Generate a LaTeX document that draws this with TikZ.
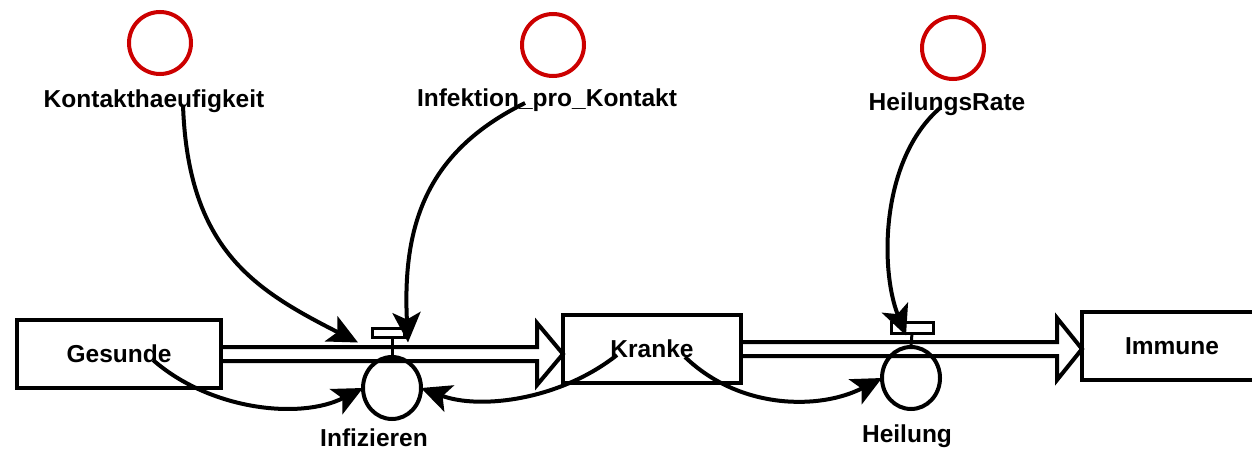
\documentclass[tikz,border=0pt]{standalone}
\usepackage{fontspec}
\setmainfont{Liberation Sans}
\usetikzlibrary{arrows.meta,shapes.geometric,calc}
\definecolor{auxred}{RGB}{204,0,0}
\begin{document}
\begin{tikzpicture}[x=1pt,y=-1pt,
  txt/.style={font=\fontsize{24.5}{28}\selectfont\bfseries, inner sep=0pt},
  stock/.style={txt, draw, line width=4pt, rectangle, minimum width=#1,
    minimum height=68pt, outer sep=0pt},
  pipe/.style={draw, line width=4pt, line join=miter},
  valve/.style={draw, line width=4pt, ellipse, minimum width=58pt,
    minimum height=62pt, inner sep=0pt, outer sep=0pt},
  gate/.style={draw, line width=3pt, rectangle, inner sep=0pt, outer sep=0pt},
  aux/.style={draw=auxred, line width=4pt, circle, minimum size=62pt,
    inner sep=0pt, outer sep=0pt},
  lbl/.style={txt, anchor=base},
  link/.style={line width=4pt, -{Stealth[length=30pt,width=28pt,inset=7pt]}}
]
\useasboundingbox (0,0) rectangle (1252,452);

% stocks
\node[stock=204pt] (gesunde) at (119,354) {Gesunde};
\node[stock=178pt] (kranke) at (652,349) {Kranke};
\node[stock=180pt] (immune) at (1172,346) {Immune};

% flow pipes with open arrow heads
\draw[pipe] ($(gesunde.east)+(0,-7)$)
  -- ($(kranke.west |- gesunde.east)+(-26,-7)$) -- ++(0,-24)
  -- (kranke.west |- gesunde.east)
  -- ($(kranke.west |- gesunde.east)+(-26,31)$) -- ++(0,-24)
  -- ($(gesunde.east)+(0,7)$);
\draw[pipe] ($(kranke.east)+(0,-7)$)
  -- ($(immune.west |- kranke.east)+(-25,-7)$) -- ++(0,-24)
  -- (immune.west |- kranke.east)
  -- ($(immune.west |- kranke.east)+(-25,31)$) -- ++(0,-24)
  -- ($(kranke.east)+(0,7)$);

% valves
\node[gate, minimum width=32pt, minimum height=9pt] (infrect) at (388,332.5) {};
\node[valve] (infiz) at (392,388) {};
\draw[line width=3pt] (infiz.north |- infrect.south) -- (infiz.north);
\node[lbl] (infizlbl) at (374,446) {Infizieren};

\node[gate, minimum width=42pt, minimum height=11pt] (heilrect) at (912,327.5) {};
\node[valve] (heil) at (911,378) {};
\draw[line width=3pt] (heilrect.south) -- (heil.north);
\node[lbl] (heillbl) at (907,442) {Heilung};

% auxiliaries
\node[aux] (kcirc) at (160,43) {};
\node[lbl] (kontakt) at (154,107) {Kontakthaeufigkeit};
\node[aux] (icirc) at (553,45) {};
\node[lbl] (infekt) at (547,106) {Infektion\_pro\_Kontakt};
\node[aux] (hcirc) at (953,48) {};
\node[lbl] (heilrate) at (947,110) {HeilungsRate};

% information links
\draw[link] ($(kontakt.base)+(29,-2)$) .. controls (188,250) and (255,290)
  .. ($(infrect.west)+(-14,10)$);
\draw[link] ($(infekt.base)+(-22,-3)$) .. controls (430,150) and (402,220)
  .. ($(infrect.east)+(4,10)$);
\draw[link] ($(heilrate.base)+(-7,-2)$) .. controls (880,160) and (880,270)
  .. ($(heilrect.center)+(-6,8)$);
\draw[link] ($(gesunde.center)+(34,6)$) .. controls (210,410) and (300,420)
  .. (infiz.west);
\draw[link] ($(kranke.center)+(-35,6)$) .. controls (560,400) and (480,410)
  .. (infiz.east);
\draw[link] ($(kranke.center)+(33,8)$) .. controls (740,410) and (820,410)
  .. (heil.west);
\end{tikzpicture}
\end{document}
